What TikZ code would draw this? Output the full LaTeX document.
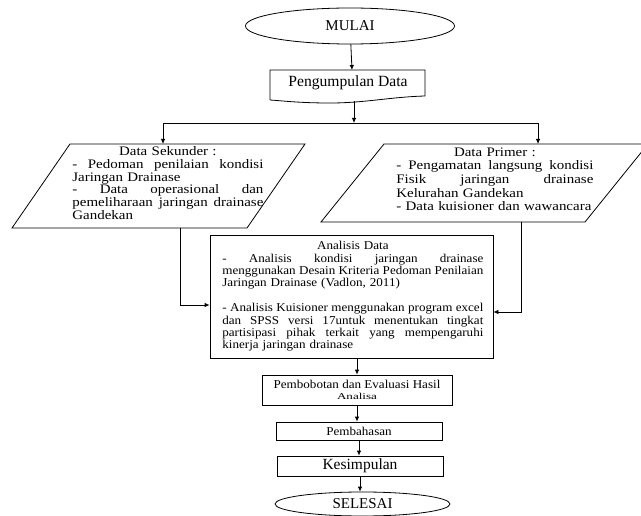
\documentclass[tikz,border=0pt]{standalone}
\usepackage{fontspec}
\setmainfont{Liberation Serif}
\newfontfamily\fA{Liberation Serif}[FakeStretch=1.15]
\newfontfamily\fB{Liberation Serif}[FakeStretch=1.09]
\newfontfamily\fC{Liberation Serif}[FakeStretch=1.45]
\usetikzlibrary{shapes.geometric,arrows.meta}
\newcommand\jl[1]{\leavevmode\hbox to\linewidth{\spaceskip=0.2em plus 1fil minus 0.1em\relax #1}}
\newcommand\cl[1]{\leavevmode\hbox to\linewidth{\hfil #1\hfil}}
\begin{document}
\begin{tikzpicture}[x=1pt,y=-1pt,
  line width=0.8pt,
  arr/.style={-{Latex[length=5pt,width=4.5pt]}},
  boxn/.style={draw, rectangle, inner sep=0pt},
  ovaln/.style={draw, ellipse, inner sep=0pt},
  txt/.style={inner sep=0pt, align=left, anchor=north west}
]
\useasboundingbox (0,0) rectangle (641,516);

% start
\node[ovaln, minimum width=209pt, minimum height=36pt, font=\fontsize{15}{18}\selectfont] (mulai) at (350,26) {MULAI};

% document shape
\coordinate (pdtop) at (352,70);
\coordinate (pdbot) at (354,101.5);
\draw (270,100) -- (270,70) -- (425,70) -- (425,96)
  .. controls (390,97) and (365,103) .. (330,103)
  .. controls (300,103) and (285,101) .. (270,100);
\node[inner sep=0pt, font=\fontsize{15.6}{18}\selectfont] (pd) at (348,83) {Pengumpulan Data};

% split
\coordinate (split) at (354,123);
\coordinate (hl) at (163,123);
\coordinate (hr) at (538,123);

% parallelograms
\coordinate (ds1) at (70,144);
\coordinate (ds2) at (305,144);
\coordinate (ds3) at (247,228);
\coordinate (ds4) at (12,228);
\draw (ds1) -- (ds2) -- (ds3) -- (ds4) -- cycle;
\coordinate (dp1) at (384,144);
\coordinate (dp2) at (648,144);
\coordinate (dp3) at (585,222);
\coordinate (dp4) at (321,222);
\draw (dp1) -- (dp2) -- (dp3) -- (dp4) -- cycle;

\node[txt, text width=191pt, font={\fontsize{13}{12.8}\fA}] (dstext) at (72,146) {%
\cl{Data Sekunder :}\\
\jl{- Pedoman penilaian kondisi}\\
Jaringan Drainase\\
\jl{- Data operasional dan}\\
\jl{pemeliharaan jaringan drainase}\\
Gandekan};

\node[txt, text width=197pt, font={\fontsize{13}{13.7}\fA}] (dptext) at (396,147) {%
\cl{Data Primer :}\\
\jl{- Pengamatan langsung kondisi}\\
\jl{Fisik jaringan drainase}\\
Kelurahan Gandekan\\
- Data kuisioner dan wawancara};

% analysis box
\node[boxn, minimum width=283pt, minimum height=123pt] (an) at (351.5,296.5) {};
\node[txt, text width=261pt, font={\fontsize{12}{12.4}\fB}] (antext) at (222,241) {%
\cl{Analisis Data}\\
\jl{- Analisis kondisi jaringan drainase}\\
\jl{menggunakan Desain Kriteria Pedoman Penilaian}\\
Jaringan Drainase (Vadlon, 2011)\\
\mbox{}\\
\jl{- Analisis Kuisioner menggunakan program excel}\\
\jl{dan SPSS versi 17untuk menentukan tingkat}\\
\jl{partisipasi pihak terkait yang mempengaruhi}\\
kinerja jaringan drainase};

\coordinate (dsout) at (180,228);
\coordinate (dpout) at (521,222);

% lower boxes
\node[boxn, minimum width=190pt, minimum height=30pt, align=center] (pb) at (357,390)
  {{\fontsize{12}{13}\fB Pembobotan dan Evaluasi Hasil}\\[-1pt]{\fontsize{9}{10}\fC Analisa}};
\node[boxn, minimum width=166pt, minimum height=18pt, font={\fontsize{12}{14}\fB}] (pm) at (359,431) {Pembahasan};
\node[boxn, minimum width=166pt, minimum height=20pt, font=\fontsize{15.5}{18}\selectfont] (ks) at (360,466) {Kesimpulan};
\node[ovaln, minimum width=175pt, minimum height=24pt, font=\fontsize{15}{18}\selectfont] (sl) at (362.5,504) {SELESAI};

% connectors
\draw[arr] (mulai) -- (pdtop);
\draw[arr] (pdbot) -- (split);
\draw (hl) -- (hr);
\draw[arr] (hl) -- (hl |- ds1);
\draw[arr] (hr) -- (hr |- dp1);
\draw[arr] (dsout) |- ([yshift=-8.5pt]an.west);
\draw[arr] (dpout) |- ([yshift=-15.5pt]an.east);
\draw[arr] (an.south -| pb.north) -- (pb.north);
\draw[arr] (pb.south) -- (pb.south |- pm.north);
\draw[arr] (pm.south) -- (pm.south |- ks.north);
\draw[arr] (ks.south) -- (ks.south |- sl.north);
\end{tikzpicture}
\end{document}
